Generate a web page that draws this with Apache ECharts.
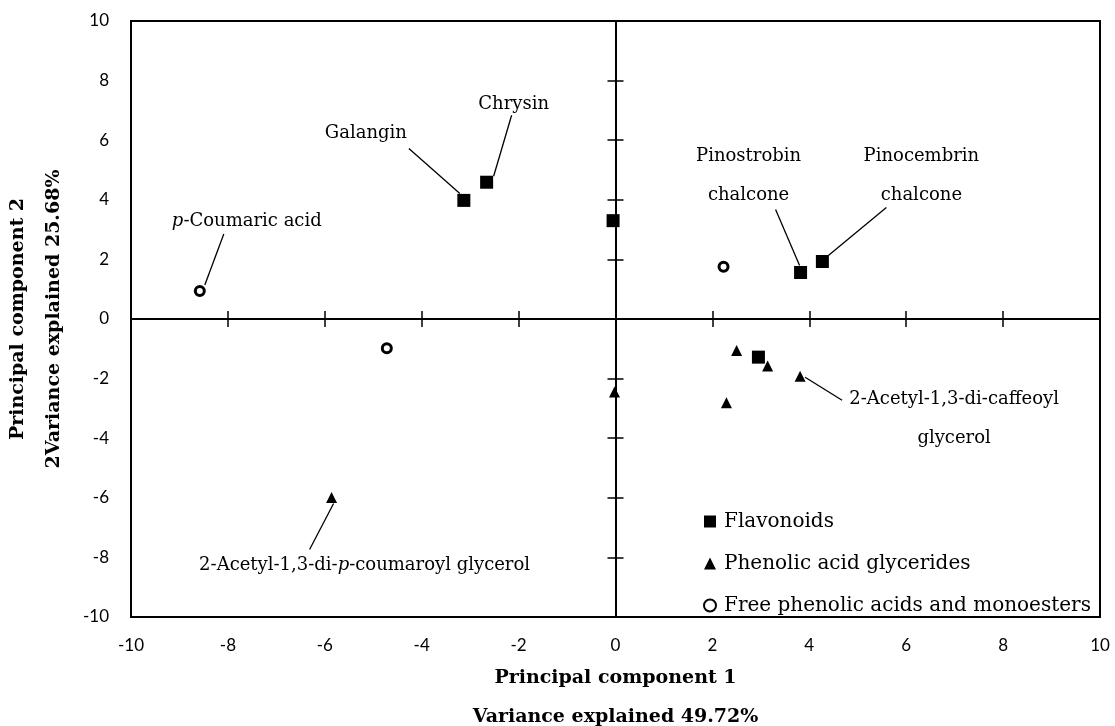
<!DOCTYPE html>
<html><head><meta charset="utf-8">
<script src="https://cdn.jsdelivr.net/npm/echarts@6/dist/echarts.min.js"></script>
<style>html,body{margin:0;padding:0;background:#fff}#c{width:1115px;height:726px}</style>
</head><body><div id="c"></div>
<script>
// ---- data ----
const seriesNames = ['Flavonoids', 'Phenolic acid glycerides', 'Free phenolic acids and monoesters'];
const flavonoids = [[-3.13, 3.98], [-2.66, 4.59], [-0.05, 3.30], [3.82, 1.56], [4.27, 1.93], [2.95, -1.28]];
const glycerides = [[2.50, -1.06], [3.14, -1.58], [3.81, -1.92], [2.29, -2.81], [-0.02, -2.45], [-5.86, -5.99]];
const freeAcids = [[-8.58, 0.94], [-4.72, -0.98], [2.23, 1.75]];
const xTitle = ['Principal component 1', 'Variance explained 49.72%'];
const yTitle = ['Principal component 2', '2Variance explained 25.68%'];
const axisMin = -10, axisMax = 10, axisStep = 2;

// ---- annotations: which point, its text, and pixel offsets (layout only) ----
const annotations = [
  { point: flavonoids[0], text: 'Galangin', textOff: [-98, -67], lineFrom: [-55, -52], lineTo: [-4, -7] },
  { point: flavonoids[1], text: 'Chrysin', textOff: [27, -78], lineFrom: [25, -67], lineTo: [7, -6] },
  { point: flavonoids[3], text: 'Pinostrobin\nchalcone', textOff: [-52, -97], lineFrom: [-25, -63], lineTo: [-1, -7] },
  { point: flavonoids[4], text: 'Pinocembrin\nchalcone', textOff: [99, -86], lineFrom: [64, -54], lineTo: [6, -6] },
  { point: glycerides[2], text: '2-Acetyl-1,3-di-caffeoyl\nglycerol', textOff: [154, 43], lineFrom: [5, 1], lineTo: [42, 24] },
  { point: glycerides[5], text: '2-Acetyl-1,3-di-{i|p}-coumaroyl glycerol', textOff: [33, 68], lineFrom: [-22, 52], lineTo: [2, 6] },
  { point: freeAcids[0], text: '{i|p}-Coumaric acid', textOff: [47, -70], lineFrom: [24, -57], lineTo: [5, -6] }
];

const serif = 'DejaVu Serif';
const labelFont = 18;

function valueAxis(extra) {
  return Object.assign({
    type: 'value', min: axisMin, max: axisMax, interval: axisStep,
    splitLine: { show: false },
    axisLabel: { show: false },
    axisTick: { show: false },
    axisLine: { show: false, onZero: false }
  }, extra);
}
const zeroLine = { show: true, onZero: true, lineStyle: { color: '#000', width: 2 } };
const tickStyle = { color: '#000', width: 1.5 };
const titleStyle = { fontFamily: serif, fontWeight: 'bold', fontSize: 19, color: '#000' };
const tickFont = { color: '#000', fontFamily: 'Lato', fontSize: 17 };

function renderAnnotation(params, api) {
  const a = annotations[params.dataIndex];
  const c = api.coord([api.value(0), api.value(1)]);
  return {
    type: 'group',
    children: [
      {
        type: 'polyline',
        shape: { points: [[c[0] + a.lineFrom[0], c[1] + a.lineFrom[1]], [c[0] + a.lineTo[0], c[1] + a.lineTo[1]]] },
        style: { stroke: '#000', lineWidth: 1.3, fill: null }
      },
      {
        type: 'text',
        x: c[0] + a.textOff[0], y: c[1] + a.textOff[1],
        style: {
          text: a.text, align: 'center', verticalAlign: 'middle',
          fontFamily: serif, fontSize: labelFont, lineHeight: 39, fill: '#000',
          rich: { i: { fontStyle: 'italic', fontFamily: serif, fontSize: labelFont, fill: '#000' } }
        }
      }
    ]
  };
}

const chart = echarts.init(document.getElementById('c'), null, { renderer: 'canvas' });
chart.setOption({
  animation: false,
  backgroundColor: '#fff',
  grid: { left: 131, right: 15, top: 21, bottom: 109, outerBoundsMode: 'none', containLabel: false,
          show: true, borderColor: '#000', borderWidth: 2, backgroundColor: 'transparent' },
  xAxis: [
    valueAxis({
      position: 'bottom',
      axisLabel: Object.assign({ show: true, margin: 20 }, tickFont),
      name: xTitle.join('\n'), nameLocation: 'middle', nameGap: 41,
      nameTextStyle: Object.assign({ lineHeight: 39 }, titleStyle)
    }),
    valueAxis({ position: 'bottom', axisLine: zeroLine, axisTick: { show: true, inside: false, length: 8, lineStyle: tickStyle } }),
    valueAxis({ position: 'bottom', axisLine: zeroLine, axisTick: { show: true, inside: true, length: 8, lineStyle: tickStyle } })
  ],
  yAxis: [
    valueAxis({
      position: 'left',
      axisLabel: Object.assign({ show: true, margin: 22 }, tickFont),
      name: yTitle.join('\n'), nameLocation: 'middle', nameGap: 53, nameRotate: 90,
      nameTextStyle: Object.assign({ lineHeight: 36 }, titleStyle)
    }),
    valueAxis({ position: 'left', axisLine: zeroLine, axisTick: { show: true, inside: false, length: 8, lineStyle: tickStyle } }),
    valueAxis({ position: 'left', axisLine: zeroLine, axisTick: { show: true, inside: true, length: 8, lineStyle: tickStyle } })
  ],
  legend: {
    orient: 'vertical', left: 698, top: 506,
    itemWidth: 12, itemHeight: 12, itemGap: 21,
    data: seriesNames,
    textStyle: { fontFamily: serif, fontSize: 20, color: '#000', lineHeight: 21, padding: [0, 0, 0, 3] }
  },
  series: [
    {
      name: seriesNames[0], type: 'scatter', xAxisIndex: 0, yAxisIndex: 0,
      symbol: 'rect', symbolSize: 13,
      itemStyle: { color: '#000', opacity: 1 },
      data: flavonoids
    },
    {
      name: seriesNames[1], type: 'scatter', xAxisIndex: 0, yAxisIndex: 0,
      symbol: 'triangle', symbolSize: 11,
      itemStyle: { color: '#000', opacity: 1 },
      data: glycerides
    },
    {
      name: seriesNames[2], type: 'scatter', xAxisIndex: 0, yAxisIndex: 0,
      symbol: 'circle', symbolSize: 9,
      itemStyle: { color: '#fff', borderColor: '#000', borderWidth: 3, opacity: 1 },
      data: freeAcids
    },
    {
      name: 'annotations', type: 'custom', xAxisIndex: 0, yAxisIndex: 0,
      silent: true, clip: false, z: 5,
      renderItem: renderAnnotation,
      data: annotations.map(a => a.point)
    }
  ]
});
</script>
</body></html>
